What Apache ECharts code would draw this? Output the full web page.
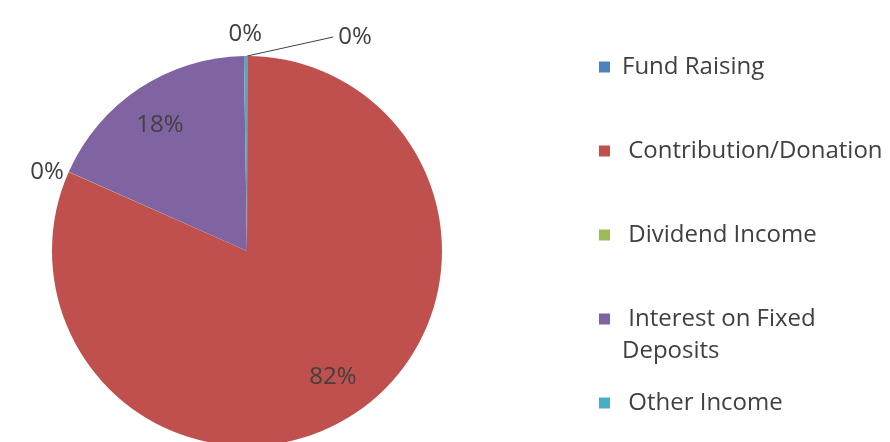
<!DOCTYPE html>
<html>
<head>
<meta charset="utf-8">
<script src="https://cdn.jsdelivr.net/npm/echarts@6/dist/echarts.min.js"></script>
<style>
  html, body { margin: 0; padding: 0; background: #fff; }
  #chart { width: 890px; height: 442px; }
</style>
</head>
<body>
<div id="chart"></div>
<script>
const categories = ['Fund Raising', 'Contribution/Donation', 'Dividend Income', 'Interest on Fixed Deposits', 'Other Income'];
const shares = [0.03, 81.6, 0.02, 18.1, 0.25];
const legendLabels = ['Fund Raising', ' Contribution/Donation', ' Dividend Income', ' Interest on Fixed\nDeposits', ' Other Income'];
const colors = ['#4F81BD', '#C0504D', '#9BBB59', '#8064A2', '#4BACC6'];

const cx = 247, cy = 251, r = 195;
const fontFamily = '"Open Sans", sans-serif';
const textColor = '#404040';

// label placement per slice (excel "best fit" look)
const labelSetup = [
  { position: 'outside', line: true, length: 19, length2: 86 },
  { position: 'inside' },
  { position: 'outside', line: false, length: 0, length2: 0 },
  { position: 'inside' },
  { position: 'outside', line: false, length: 22, length2: 0 }
];

// one legend per row so the wrapped item keeps the same row spacing
const rowTop = 67, rowStep = 84, lineH = 32;
const legends = categories.map((name, i) => {
  const wrapped = legendLabels[i].indexOf('\n') >= 0;
  return {
    orient: 'vertical',
    left: 599,
    top: rowTop + i * rowStep - (wrapped ? 1.5 * lineH : lineH / 2),
    padding: 0,
    selectedMode: false,
    icon: 'rect',
    itemWidth: 11,
    itemHeight: 11,
    data: [name],
    // blank first line keeps the first text line level with the icon
    formatter: () => (wrapped ? ' \n' : '') + legendLabels[i],
    textStyle: {
      fontFamily: fontFamily,
      fontSize: 24,
      color: textColor,
      lineHeight: lineH,
      padding: [0, 0, 0, 7]
    }
  };
});

const chart = echarts.init(document.getElementById('chart'));
chart.setOption({
  animation: false,
  legend: legends,
  series: [{
    type: 'pie',
    center: [cx, cy],
    radius: r,
    startAngle: 90,
    clockwise: true,
    avoidLabelOverlap: false,
    percentPrecision: 0,
    silent: true,
    itemStyle: { borderWidth: 0 },
    label: { formatter: '{d}%', fontFamily: fontFamily, fontSize: 24, color: textColor },
    labelLine: { lineStyle: { color: '#404040', width: 1 } },
    data: categories.map((name, i) => ({
      name: name,
      value: shares[i],
      itemStyle: { color: colors[i] },
      label: { position: labelSetup[i].position },
      labelLine: labelSetup[i].position === 'inside' ? { show: false } : {
        show: labelSetup[i].line,
        length: labelSetup[i].length,
        length2: labelSetup[i].length2
      }
    })),
    labelLayout: function (p) {
      const rect = p.labelRect;
      if (labelSetup[p.dataIndex].position === 'inside') {
        // push inner labels further out from the centre
        const lx = rect.x + rect.width / 2, ly = rect.y + rect.height / 2;
        return { dx: (lx - cx) * 0.57, dy: (ly - cy) * 0.5 };
      }
      if (p.dataIndex === 4) {
        return { dx: rect.width / 2 + 5 };
      }
      if (labelSetup[p.dataIndex].line && p.labelLinePoints) {
        // straight leader from the rim to the label
        const pts = p.labelLinePoints;
        return { labelLinePoints: [pts[0], pts[2], pts[2]] };
      }
      return {};
    }
  }]
});
</script>
</body>
</html>
